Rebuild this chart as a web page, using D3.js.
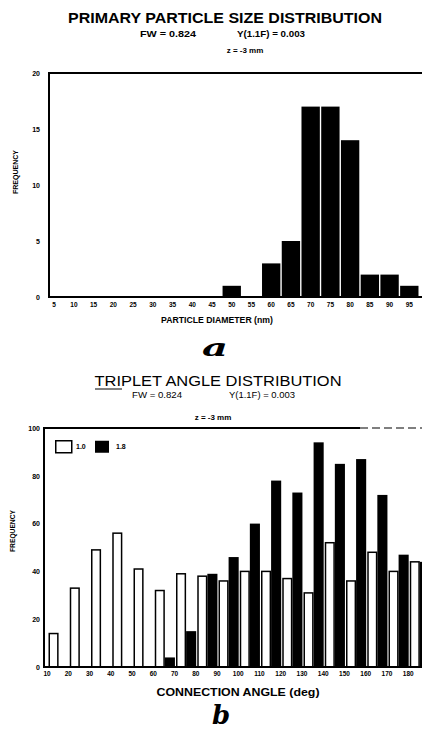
<!DOCTYPE html>
<html>
<head>
<meta charset="utf-8">
<script src="https://cdn.jsdelivr.net/npm/d3@7"></script>
<style>
  html, body { margin: 0; padding: 0; background: #fff; }
  svg { display: block; }
  text { font-family: "Liberation Sans", Arial, sans-serif; fill: #000; }
  .tick text { font-weight: bold; }
</style>
</head>
<body>
<svg id="chart" width="422" height="730"></svg>
<script>
// particle size histogram (bin centres, nm)
const sizeBins = [5, 10, 15, 20, 25, 30, 35, 40, 45, 50, 55, 60, 65, 70, 75, 80, 85, 90, 95, 100];
const sizeFreq = [0, 0, 0, 0, 0, 0, 0, 0, 0, 1, 0, 3, 5, 17, 17, 14, 2, 2, 1, 0];
const sizeTicks = [0, 5, 10, 15, 20];

// triplet angle histogram (deg), open and filled series
const angleBins = [10, 20, 30, 40, 50, 60, 70, 80, 90, 100, 110, 120, 130, 140, 150, 160, 170, 180];
const angleOpen = [14, 33, 49, 56, 41, 32, 39, 38, 36, 40, 40, 37, 31, 52, 36, 48, 40, 44];
const angleFilled = [0, 0, 0, 0, 0, 4, 15, 39, 46, 60, 78, 73, 94, 85, 87, 72, 47, 44];
const angleTicks = [0, 20, 40, 60, 80, 100];
const seriesNames = ["open", "filled"];
const legendLabels = ["1.0", "1.8"];

const svg = d3.select("#chart");

// ---------- chart a ----------
const xA = d3.scaleBand()
    .domain(sizeBins)
    .range([43.6, 439.6])
    .padding(0.07);
const yA = d3.scaleLinear().domain([0, 20]).range([297, 73]);

const gA = svg.append("g");

gA.append("text")
    .attr("x", 225).attr("y", 23)
    .attr("text-anchor", "middle")
    .attr("textLength", 314).attr("lengthAdjust", "spacingAndGlyphs")
    .style("font-size", "14px").style("font-weight", "bold")
    .text("PRIMARY PARTICLE SIZE DISTRIBUTION");
gA.append("text")
    .attr("x", 168).attr("y", 37)
    .attr("text-anchor", "middle")
    .attr("textLength", 56).attr("lengthAdjust", "spacingAndGlyphs")
    .style("font-size", "9px").style("font-weight", "bold")
    .text("FW = 0.824");
gA.append("text")
    .attr("x", 271).attr("y", 37)
    .attr("text-anchor", "middle")
    .attr("textLength", 68).attr("lengthAdjust", "spacingAndGlyphs")
    .style("font-size", "9px").style("font-weight", "bold")
    .text("Y(1.1F) = 0.003");
gA.append("text")
    .attr("x", 245).attr("y", 53)
    .attr("text-anchor", "middle")
    .style("font-size", "8px").style("font-weight", "bold")
    .text("z = -3 mm");

gA.selectAll("rect.bar")
    .data(sizeBins.map((b, i) => ({bin: b, v: sizeFreq[i]})).filter(d => d.v > 0))
    .join("rect")
    .attr("class", "bar")
    .attr("x", d => xA(d.bin))
    .attr("y", d => yA(d.v))
    .attr("width", xA.bandwidth())
    .attr("height", d => yA(0) - yA(d.v))
    .attr("fill", "#000");

// frame
gA.append("path")
    .attr("d", `M422,${yA(20)}H49V${yA(0)}H422`)
    .attr("fill", "none").attr("stroke", "#000").attr("stroke-width", 2);

gA.append("g")
    .attr("transform", `translate(49,0)`)
    .call(d3.axisLeft(yA).tickValues(sizeTicks).tickSize(0).tickPadding(9))
    .call(g => g.select(".domain").remove())
    .selectAll("text").style("font-size", "7px");

// last label sits on the right edge, cut as in the original scan
gA.append("g")
    .attr("transform", `translate(0,${yA(0)})`)
    .call(d3.axisBottom(xA).tickSize(0).tickPadding(5))
    .call(g => g.select(".domain").remove())
    .selectAll("text").style("font-size", "6.5px");

gA.append("text")
    .attr("x", 217).attr("y", 323)
    .attr("text-anchor", "middle")
    .style("font-size", "8.7px").style("font-weight", "bold")
    .text("PARTICLE DIAMETER (nm)");
gA.append("text")
    .attr("transform", "translate(18,172) rotate(-90)")
    .attr("text-anchor", "middle")
    .attr("textLength", 44).attr("lengthAdjust", "spacingAndGlyphs")
    .style("font-size", "8px").style("font-weight", "bold")
    .text("FREQUENCY");
gA.append("text")
    .attr("x", 215).attr("y", 356)
    .attr("text-anchor", "middle")
    .attr("textLength", 26).attr("lengthAdjust", "spacingAndGlyphs")
    .style("font-family", "'DejaVu Serif', serif")
    .style("font-size", "24px").style("font-weight", "bold").style("font-style", "italic")
    .text("a");

// ---------- chart b ----------
const stepB = 21.25;
const xB = d3.scaleBand()
    .domain(angleBins)
    .range([48.5, 48.5 + stepB * (angleBins.length - 0.05)])
    .paddingInner(0.05);
const xSeries = d3.scaleBand()
    .domain(seriesNames)
    .range([0, xB.bandwidth()]);
const yB = d3.scaleLinear().domain([0, 100]).range([667, 428]);

const gB = svg.append("g");

gB.append("text")
    .attr("x", 218).attr("y", 386)
    .attr("text-anchor", "middle")
    .attr("textLength", 247).attr("lengthAdjust", "spacingAndGlyphs")
    .style("font-size", "14.5px")
    .text("TRIPLET ANGLE DISTRIBUTION");
gB.append("line")
    .attr("x1", 95).attr("x2", 122).attr("y1", 389).attr("y2", 389)
    .attr("stroke", "#000").attr("stroke-width", 1);
gB.append("text")
    .attr("x", 157).attr("y", 398)
    .attr("text-anchor", "middle")
    .attr("textLength", 50).attr("lengthAdjust", "spacingAndGlyphs")
    .style("font-size", "8.5px")
    .text("FW = 0.824");
gB.append("text")
    .attr("x", 262).attr("y", 398)
    .attr("text-anchor", "middle")
    .attr("textLength", 66).attr("lengthAdjust", "spacingAndGlyphs")
    .style("font-size", "8.5px")
    .text("Y(1.1F) = 0.003");
gB.append("text")
    .attr("x", 213).attr("y", 420)
    .attr("text-anchor", "middle")
    .style("font-size", "8px").style("font-weight", "bold")
    .text("z = -3 mm");

const groups = gB.selectAll("g.grp")
    .data(angleBins.map((b, i) => ({bin: b, vals: [angleOpen[i], angleFilled[i]]})))
    .join("g")
    .attr("class", "grp")
    .attr("transform", d => `translate(${xB(d.bin)},0)`);

groups.selectAll("rect")
    .data(d => d.vals.map((v, j) => ({key: seriesNames[j], v})).filter(e => e.v > 0))
    .join("rect")
    .attr("x", e => xSeries(e.key) + (e.key === "open" ? 0.75 : 0))
    .attr("y", e => yB(e.v))
    .attr("width", e => xSeries.bandwidth() - (e.key === "open" ? 1.5 : 0))
    .attr("height", e => yB(0) - yB(e.v))
    .attr("fill", e => e.key === "open" ? "#fff" : "#000")
    .attr("stroke", e => e.key === "open" ? "#000" : "none")
    .attr("stroke-width", 1.5);

// frame
gB.append("path")
    .attr("d", `M360,${yB(100)}H44V${yB(0)}H422`)
    .attr("fill", "none").attr("stroke", "#000").attr("stroke-width", 2);
gB.append("line")
    .attr("x1", 360).attr("x2", 422).attr("y1", yB(100)).attr("y2", yB(100))
    .attr("stroke", "#000").attr("stroke-width", 1.2).attr("stroke-dasharray", "8,4");

gB.append("g")
    .attr("transform", `translate(44,0)`)
    .call(d3.axisLeft(yB).tickValues(angleTicks).tickSize(0).tickPadding(4))
    .call(g => g.select(".domain").remove())
    .selectAll("text").style("font-size", "7px");

gB.append("g")
    .attr("transform", `translate(${-xB.bandwidth() / 2 - 1.5},${yB(0)})`)
    .call(d3.axisBottom(xB).tickSize(0).tickPadding(4))
    .call(g => g.select(".domain").remove())
    .selectAll("text").style("font-size", "6.5px");

gB.append("text")
    .attr("x", 238).attr("y", 696)
    .attr("text-anchor", "middle")
    .attr("textLength", 163).attr("lengthAdjust", "spacingAndGlyphs")
    .style("font-size", "11px").style("font-weight", "bold")
    .text("CONNECTION ANGLE (deg)");
gB.append("text")
    .attr("transform", "translate(15,531) rotate(-90)")
    .attr("text-anchor", "middle")
    .attr("textLength", 42).attr("lengthAdjust", "spacingAndGlyphs")
    .style("font-size", "8px").style("font-weight", "bold")
    .text("FREQUENCY");

// legend
const legend = gB.append("g").attr("transform", "translate(55,440)");
legend.selectAll("rect")
    .data(seriesNames)
    .join("rect")
    .attr("x", (d, i) => i * 40 + (i ? 0 : 0.75))
    .attr("y", 0.75)
    .attr("width", (d, i) => i ? 14 : 16)
    .attr("height", 12)
    .attr("fill", d => d === "open" ? "#fff" : "#000")
    .attr("stroke", d => d === "open" ? "#000" : "none")
    .attr("stroke-width", 1.5);
legend.selectAll("text")
    .data(legendLabels)
    .join("text")
    .attr("x", (d, i) => i * 40 + 21)
    .attr("y", 9)
    .style("font-size", "7px").style("font-weight", "bold")
    .text(d => d);

gB.append("text")
    .attr("x", 221).attr("y", 724)
    .attr("text-anchor", "middle")
    .style("font-family", "'DejaVu Serif', serif")
    .style("font-size", "26px").style("font-weight", "bold").style("font-style", "italic")
    .text("b");
</script>
</body>
</html>
